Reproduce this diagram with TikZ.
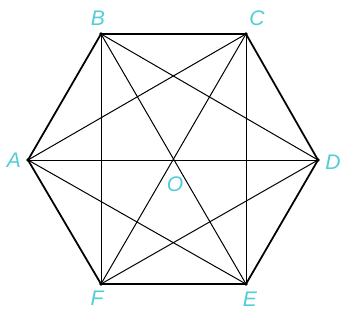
\documentclass[tikz,border=0pt]{standalone}
\usepackage{fontspec}
\setsansfont{Liberation Sans}
\usetikzlibrary{calc}
\definecolor{labcyan}{RGB}{80,205,215}

\begin{document}
\begin{tikzpicture}[
  x=0.03cm, y=-0.03cm,
  side/.style={draw, line width=1.5pt, line join=round},
  diag/.style={draw, line width=0.85pt},
  vlab/.style={font=\fontsize{18}{18}\sffamily\itshape, text=labcyan, inner sep=0pt}
]
  \useasboundingbox (0,0) rectangle (343,320);

  % Vertices
  \coordinate (A) at (28,160);
  \coordinate (B) at (101,34);
  \coordinate (C) at (246,34);
  \coordinate (D) at (318,160);
  \coordinate (E) at (246,284);
  \coordinate (F) at (101,284);
  \coordinate (O) at (173,160);

  % Diagonals
  \foreach \p/\q in {A/C, A/D, A/E, B/D, B/E, B/F, C/E, C/F, D/F}
    \draw[diag] (\p) -- (\q);

  % Hexagon
  \draw[side] (A) -- (B) -- (C) -- (D) -- (E) -- (F) -- cycle;
  \foreach \v in {A,B,C,D,E,F}
    \fill (\v) circle (1.8);

  % Labels
  \node[vlab] (lA) at (14,160) {A};
  \node[vlab] (lB) at (98,18) {B};
  \node[vlab] (lC) at (257,18) {C};
  \node[vlab] (lD) at (333,162) {D};
  \node[vlab] (lE) at (250,299) {E};
  \node[vlab] (lF) at (97,298) {F};
  \node[vlab] (lO) at (175,184) {O};
\end{tikzpicture}
\end{document}
